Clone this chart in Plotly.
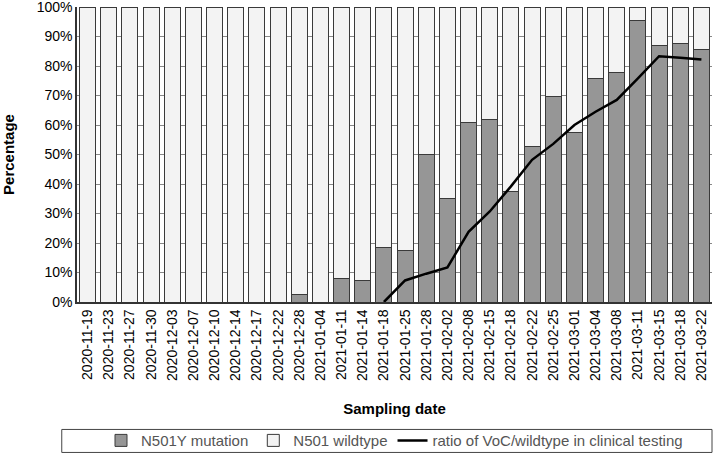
import plotly.graph_objects as go

dates = [
    "2020-11-19", "2020-11-23", "2020-11-27", "2020-11-30", "2020-12-03",
    "2020-12-07", "2020-12-10", "2020-12-14", "2020-12-17", "2020-12-22",
    "2020-12-28", "2021-01-04", "2021-01-11", "2021-01-14", "2021-01-18",
    "2021-01-25", "2021-01-28", "2021-02-02", "2021-02-08", "2021-02-15",
    "2021-02-18", "2021-02-22", "2021-02-25", "2021-03-01", "2021-03-04",
    "2021-03-08", "2021-03-11", "2021-03-15", "2021-03-18", "2021-03-22",
]
mutation = [
    0, 0, 0, 0, 0, 0, 0, 0, 0, 0,
    2.5, 0, 7.8, 7.4, 18.5, 17.3, 50.1, 35.0, 60.9, 61.9,
    37.6, 52.6, 69.8, 57.5, 75.9, 77.8, 95.3, 86.9, 87.5, 85.5,
]
wildtype = [100 - m for m in mutation]
ratio = [
    None, None, None, None, None, None, None, None, None, None,
    None, None, None, None, 0, 7.3, 9.6, 11.7, 23.8, 30.7,
    39.2, 48.2, 53.6, 60.0, 64.5, 68.5, 75.8, 83.3, 82.8, 82.2,
]
pct_ticks = list(range(0, 101, 10))

font = "Liberation Sans, Arial, sans-serif"
edge = dict(color="#3a3a3a", width=1)

fig = go.Figure()
fig.add_trace(go.Bar(x=dates, y=mutation, name="N501Y mutation",
                     marker=dict(color="#969696", line=edge)))
fig.add_trace(go.Bar(x=dates, y=wildtype, name="N501 wildtype",
                     marker=dict(color="#f3f3f3", line=edge)))
fig.add_trace(go.Scatter(x=dates, y=ratio, mode="lines",
                         name="ratio of VoC/wildtype in clinical testing",
                         line=dict(color="black", width=2.5)))

fig.update_layout(
    width=714, height=455,
    margin=dict(l=77, r=2, t=7, b=153, autoexpand=False),
    barmode="stack", bargap=0.25,
    plot_bgcolor="white", paper_bgcolor="white",
    font=dict(family=font, size=14, color="black"),
    legend=dict(orientation="h", x=0.5, xanchor="center", y=-0.47, yanchor="middle",
                font=dict(size=15, color="#555"), traceorder="normal",
                bgcolor="rgba(0,0,0,0)", itemwidth=30),
    shapes=[dict(type="rect", xref="paper", yref="paper",
                 x0=-0.024, x1=1.0, y0=-0.432, y1=-0.51,
                 line=dict(color="#444", width=1), fillcolor="rgba(0,0,0,0)")],
)
fig.update_xaxes(
    type="category", tickangle=-90, tickfont=dict(size=14), automargin=False,
    showline=True, linecolor="#333", linewidth=1.5,
    title=dict(text="<b>Sampling date</b>", font=dict(size=15), standoff=24),
)
fig.update_yaxes(
    range=[0, 100], tickvals=pct_ticks, ticktext=[f"{v}%" for v in pct_ticks],
    ticklabeloverflow="allow", automargin=False,
    showgrid=True, gridcolor="#888", gridwidth=1,
    showline=True, linecolor="#333", linewidth=1.5,
    title=dict(text="<b>Percentage</b>", font=dict(size=15), standoff=21),
)

fig.write_html("out.html", config={"displayModeBar": False},
               post_script="document.body.style.margin = '0';")
